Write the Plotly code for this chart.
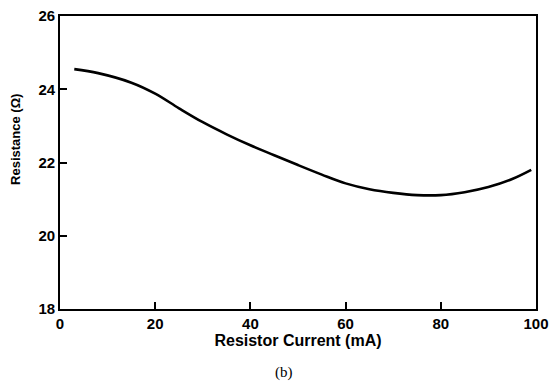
import plotly.graph_objects as go

current_mA = [3, 8, 15, 20, 25, 30, 35, 40, 45, 50, 55, 60, 65, 70, 75, 80, 85, 90, 95, 99]
resistance_ohm = [24.55, 24.44, 24.18, 23.88, 23.48, 23.10, 22.77, 22.47, 22.20, 21.93,
                  21.67, 21.43, 21.27, 21.17, 21.11, 21.11, 21.19, 21.33, 21.55, 21.80]
x_ticks = [0, 20, 40, 60, 80, 100]
y_ticks = [18, 20, 22, 24, 26]

font_bold = "Liberation Sans, Arial, sans-serif"

fig = go.Figure()
fig.add_trace(go.Scatter(
    x=current_mA, y=resistance_ohm, mode="lines",
    line=dict(color="black", width=2.6, shape="spline", smoothing=1.0),
    showlegend=False, hoverinfo="skip"))

axis_common = dict(
    showgrid=False, zeroline=False, showline=True, linecolor="black", linewidth=1.6,
    mirror=True, ticks="inside", ticklen=7, tickwidth=1.6, tickcolor="black",
    automargin=False, ticklabeloverflow="allow",
)

fig.update_xaxes(
    range=[0, 100], tickvals=x_ticks, ticktext=[f"<b>{v}</b>" for v in x_ticks],
    tickfont=dict(family=font_bold, size=15, color="black"),
    title=dict(text="<b>Resistor Current (mA)</b>", font=dict(family=font_bold, size=16, color="black"), standoff=2),
    **axis_common)
fig.update_yaxes(
    range=[18, 26], tickvals=y_ticks, ticktext=[f"<b>{v}</b>" for v in y_ticks],
    tickfont=dict(family=font_bold, size=15, color="black"),
    **axis_common)

fig.add_annotation(
    text="<b>Resistance (Ω)</b>", xref="paper", yref="paper", x=-44 / 476, y=0.577,
    xanchor="center", yanchor="middle", textangle=-90, showarrow=False,
    font=dict(family=font_bold, size=13, color="black"))

fig.add_annotation(
    text="(b)", xref="paper", yref="paper", x=0.47, y=-0.218, yanchor="middle",
    showarrow=False, font=dict(family="Liberation Serif, Times New Roman, serif", size=15, color="black"))

fig.update_layout(
    width=551, height=384,
    margin=dict(l=60, r=15, t=16, b=75),
    paper_bgcolor="white", plot_bgcolor="white",
)

fig.write_html("out.html")
